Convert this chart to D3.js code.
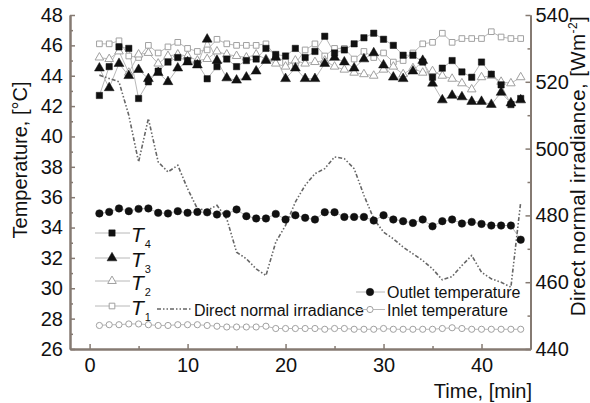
<!DOCTYPE html>
<html>
<head>
<meta charset="utf-8">
<script src="https://cdn.jsdelivr.net/npm/d3@7/dist/d3.min.js"></script>
<style>
  body { margin: 0; background: #fff; }
  svg { display: block; font-family: "Liberation Sans", Arial, sans-serif; }
</style>
</head>
<body>
<svg id="chart" width="590" height="403"></svg>
<script>
// time, [min]
const minutes = [1, 2, 3, 4, 5, 6, 7, 8, 9, 10, 11, 12, 13, 14, 15, 16, 17, 18, 19, 20, 21, 22,
    23, 24, 25, 26, 27, 28, 29, 30, 31, 32, 33, 34, 35, 36, 37, 38, 39, 40, 41, 42, 43, 44];

// temperatures, [°C]
const t4 = [42.7, 44.6, 45.9, 45.8, 42.5, 43.6, 44.3, 44.9, 45.2, 45.0, 44.8, 43.8, 44.6, 45.1, 44.6, 45.0, 45.1, 45.8, 45.4, 45.3, 45.8, 45.2,
    45.6, 46.6, 45.5, 45.7, 46.1, 46.5, 46.8, 46.4, 46.0, 45.35, 45.35, 44.9, 43.9, 44.5, 45.0, 44.25, 43.9, 44.9, 44.1, 43.4, 42.1, 42.5];
const t3 = [44.5, 43.2, 44.8, 44.0, 44.4, 43.8, 44.2, 43.6, 44.5, 44.9, 44.7, 46.4, 45.0, 43.85, 43.7, 43.9, 44.3, 45.0, 45.2, 43.8, 44.5, 43.8,
    43.8, 44.8, 45.2, 44.9, 44.5, 45.1, 45.5, 44.7, 43.9, 43.8, 44.3, 45.0, 43.5, 42.4, 42.7, 42.6, 42.3, 42.3, 42.1, 42.9, 42.2, 42.4];
const t2 = [45.2, 45.1, 45.6, 44.2, 45.4, 45.5, 44.8, 45.3, 45.4, 45.3, 45.0, 45.1, 45.6, 45.4, 45.3, 45.2, 45.4, 45.1, 44.8, 44.6, 45.0, 44.8,
    44.9, 45.0, 44.6, 44.4, 44.2, 44.1, 44.0, 44.4, 44.6, 44.1, 44.5, 44.2, 44.3, 44.0, 43.8, 43.5, 43.1, 43.9, 44.0, 43.6, 43.5, 43.9];
const t1 = [46.1, 46.1, 46.3, 45.3, 45.2, 46.0, 45.5, 45.9, 46.2, 45.8, 45.6, 45.7, 46.4, 46.1, 46.0, 46.0, 46.0, 46.1, 45.3, 44.9, 44.8, 45.7,
    46.1, 45.3, 45.8, 45.8, 45.1, 45.6, 45.2, 45.5, 44.9, 45.0, 45.5, 46.1, 46.2, 46.8, 46.2, 46.45, 46.45, 46.45, 46.9, 46.55, 46.45, 46.45];
const outlet = [34.93, 35.03, 35.26, 35.08, 35.23, 35.26, 34.97, 34.93, 35.08, 34.97, 35.03, 35.0, 34.86, 34.9, 35.19, 34.75, 34.6, 34.6, 34.9, 34.53, 34.81, 34.64,
    34.53, 35.01, 35.01, 34.7, 34.7, 34.7, 34.46, 34.81, 34.53, 34.42, 34.3, 34.53, 34.08, 34.42, 34.53, 34.26, 34.37, 34.24, 34.13, 34.13, 34.13, 33.2];
const inlet = [27.55, 27.6, 27.6, 27.65, 27.65, 27.6, 27.55, 27.55, 27.6, 27.6, 27.6, 27.55, 27.5, 27.45, 27.45, 27.45, 27.45, 27.5, 27.35, 27.35, 27.35, 27.35,
    27.35, 27.3, 27.35, 27.35, 27.3, 27.3, 27.3, 27.35, 27.3, 27.3, 27.3, 27.3, 27.3, 27.35, 27.4, 27.35, 27.3, 27.3, 27.3, 27.3, 27.3, 27.3];

// direct normal irradiance, [W/m2]
const irradiance = [522, 521, 520, 510, 496, 509, 496, 493, 495, 488, 482, 481.5, 483, 479, 469, 467, 464, 462, 472, 477, 484, 489,
    492.5, 494, 497.5, 497, 494, 486, 479, 475, 473, 470.5, 468.5, 466.5, 464, 460.7, 461.7, 465, 468, 463, 461, 460, 458.5, 484];

// axis ticks
const xMajor = [0, 10, 20, 30, 40];
const xMinor = [5, 15, 25, 35];
const yLeftMajor = [26, 28, 30, 32, 34, 36, 38, 40, 42, 44, 46, 48];
const yLeftMinor = [27, 29, 31, 33, 35, 37, 39, 41, 43, 45, 47];
const yRightMajor = [440, 460, 480, 500, 520, 540];
const yRightMinor = [450, 470, 490, 510, 530];

const svg = d3.select('#chart');
const axisColor = '#857a72';
const lineColor = '#b8b8b8';
const openColor = '#a0a0a0';

const xScale = d3.scaleLinear().domain([-2, 45]).range([70, 530.5]);
const yLeft = d3.scaleLinear().domain([26, 48]).range([349, 15]);
const yRight = d3.scaleLinear().domain([440, 540]).range([349, 15]);

const series = [
    {name: 't1', values: t1, symbol: d3.symbolSquare, size: 32, open: true},
    {name: 't2', values: t2, symbol: d3.symbolTriangle, size: 32, open: true},
    {name: 'inlet', values: inlet, symbol: d3.symbolCircle, size: 30, open: true},
    {name: 't3', values: t3, symbol: d3.symbolTriangle, size: 42, open: false},
    {name: 't4', values: t4, symbol: d3.symbolSquare, size: 40, open: false},
    {name: 'outlet', values: outlet, symbol: d3.symbolCircle, size: 44, open: false}
];

// thin connecting lines
const tempLine = d3.line()
    .x((d, i) => xScale(minutes[i]))
    .y(d => yLeft(d));

for (const s of series) {
    svg.append('path')
        .attr('d', tempLine(s.values))
        .attr('fill', 'none')
        .attr('stroke', lineColor)
        .attr('stroke-width', 1);
}

// irradiance on the right axis
const irrLine = d3.line()
    .x((d, i) => xScale(minutes[i]))
    .y(d => yRight(d));

svg.append('path')
    .attr('d', irrLine(irradiance))
    .attr('fill', 'none')
    .attr('stroke', '#666')
    .attr('stroke-width', 1.6)
    .attr('stroke-dasharray', '4,2,1.5,2,1.5,2');

// markers
const drawMarker = (g, s, x, y) => {
    g.append('path')
        .attr('transform', `translate(${x},${y})`)
        .attr('d', d3.symbol().type(s.symbol).size(s.size)())
        .attr('fill', s.open ? '#fff' : '#111')
        .attr('stroke', s.open ? openColor : '#111')
        .attr('stroke-width', s.open ? 1 : 0.5);
};

for (const s of series) {
    const g = svg.append('g');
    s.values.forEach((v, i) => drawMarker(g, s, xScale(minutes[i]), yLeft(v)));
}

// axes
const fontSize = 20;

const styleAxis = g => {
    g.select('.domain').attr('stroke', axisColor).attr('stroke-width', 2);
    g.selectAll('.tick line').attr('stroke', axisColor).attr('stroke-width', 1.5);
    g.selectAll('.tick text').attr('font-size', fontSize).attr('fill', '#111')
        .attr('font-family', '"Liberation Sans", Arial, sans-serif');
};

svg.append('g')
    .attr('transform', 'translate(0,349)')
    .call(d3.axisBottom(xScale).tickValues(xMajor).tickSizeInner(-5).tickSizeOuter(0).tickPadding(9))
    .call(styleAxis);
svg.append('g')
    .attr('transform', 'translate(0,349)')
    .call(d3.axisBottom(xScale).tickValues(xMinor).tickSizeInner(-3).tickSizeOuter(0).tickFormat(''))
    .call(styleAxis);

svg.append('g')
    .attr('transform', 'translate(70,0)')
    .call(d3.axisLeft(yLeft).tickValues(yLeftMajor).tickSizeInner(-5).tickSizeOuter(0).tickPadding(7))
    .call(styleAxis);
svg.append('g')
    .attr('transform', 'translate(70,0)')
    .call(d3.axisLeft(yLeft).tickValues(yLeftMinor).tickSizeInner(-3).tickSizeOuter(0).tickFormat(''))
    .call(styleAxis);

svg.append('g')
    .attr('transform', 'translate(530.5,0)')
    .call(d3.axisRight(yRight).tickValues(yRightMajor).tickSizeInner(-5).tickSizeOuter(0).tickPadding(5))
    .call(styleAxis);
svg.append('g')
    .attr('transform', 'translate(530.5,0)')
    .call(d3.axisRight(yRight).tickValues(yRightMinor).tickSizeInner(-3).tickSizeOuter(0).tickFormat(''))
    .call(styleAxis);

// axis titles
svg.append('text')
    .attr('transform', 'translate(27,160) rotate(-90)')
    .attr('text-anchor', 'middle')
    .attr('font-size', fontSize)
    .attr('fill', '#111')
    .text('Temperature, [°C]');

const rTitle = svg.append('text')
    .attr('transform', 'translate(585,166) rotate(-90)')
    .attr('text-anchor', 'middle')
    .attr('font-size', 20.5)
    .attr('letter-spacing', 0.4)
    .attr('fill', '#111');
rTitle.append('tspan').text('Direct normal irradiance, [Wm');
rTitle.append('tspan').attr('dy', -8).attr('font-size', 12).text('-2');
rTitle.append('tspan').attr('dy', 8).text(']');

svg.append('text')
    .attr('x', 532)
    .attr('y', 398)
    .attr('text-anchor', 'end')
    .attr('font-size', fontSize)
    .attr('fill', '#111')
    .text('Time, [min]');

// legend, left block
const legendT = [
    {s: series[4], sub: '4', y: 233},
    {s: series[3], sub: '3', y: 258},
    {s: series[1], sub: '2', y: 281},
    {s: series[0], sub: '1', y: 306}
];
const lg = svg.append('g');
for (const e of legendT) {
    lg.append('line')
        .attr('x1', 95).attr('x2', 130)
        .attr('y1', e.y).attr('y2', e.y)
        .attr('stroke', lineColor).attr('stroke-width', 1);
    drawMarker(lg, e.s, 112, e.y);
    const t = lg.append('text')
        .attr('x', 131)
        .attr('y', e.y + 9)
        .attr('font-size', 21)
        .attr('fill', '#111');
    t.append('tspan').attr('font-style', 'italic').text('T');
    t.append('tspan').attr('dy', 6).attr('dx', 1).attr('font-size', 11).text(e.sub);
}

// irradiance legend
lg.append('line')
    .attr('x1', 157).attr('x2', 192)
    .attr('y1', 309).attr('y2', 309)
    .attr('stroke', '#666').attr('stroke-width', 1.6)
    .attr('stroke-dasharray', '4,2,1.5,2,1.5,2');
lg.append('text')
    .attr('x', 194).attr('y', 315.5)
    .attr('font-size', 16).attr('fill', '#111')
    .text('Direct normal irradiance');

// outlet / inlet legend
const legendR = [
    {s: series[5], label: 'Outlet temperature', y: 292},
    {s: series[2], label: 'Inlet temperature', y: 309.5}
];
for (const e of legendR) {
    lg.append('line')
        .attr('x1', 356).attr('x2', 385)
        .attr('y1', e.y).attr('y2', e.y)
        .attr('stroke', lineColor).attr('stroke-width', 1);
    drawMarker(lg, e.s, 370, e.y);
    lg.append('text')
        .attr('x', 387).attr('y', e.y + 6)
        .attr('font-size', 16).attr('fill', '#111')
        .text(e.label);
}
</script>
</body>
</html>
